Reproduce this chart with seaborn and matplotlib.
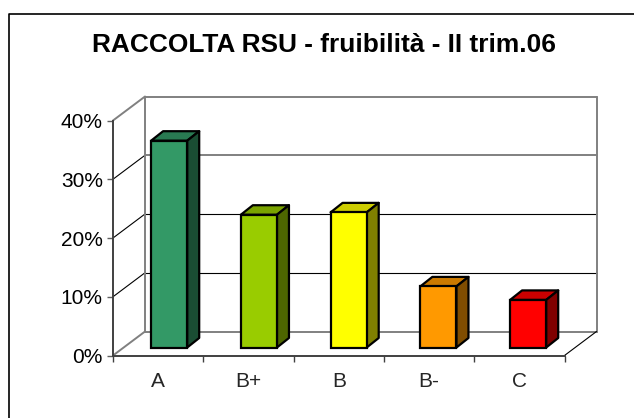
import matplotlib
matplotlib.use('Agg')
import matplotlib.pyplot as plt
from matplotlib.lines import Line2D
from matplotlib.patches import Polygon
import pandas as pd
import seaborn as sns

# Data
categories = ['A', 'B+', 'B', 'B-', 'C']
values = [35.2, 22.6, 23.0, 10.4, 8.1]
front_colors = ['#339966', '#99CC00', '#FFFF00', '#FF9900', '#FF0000']
top_colors = ['#297A52', '#7AA300', '#CCCC00', '#CC7A00', '#CC0000']
side_colors = ['#1A4D33', '#4D6600', '#808000', '#804D00', '#800000']
y_ticks = [0, 10, 20, 30, 40]
title = 'RACCOLTA RSU - fruibilità - II trim.06'

W, H = 634, 418
sns.set_style('white')
plt.rcParams['font.family'] = ['Liberation Sans', 'DejaVu Sans']

df = pd.DataFrame({'cat': categories, 'val': values})

fig = plt.figure(figsize=(W / 100, H / 100), dpi=100)
fig.patch.set_facecolor('white')
# frame only shows on the left and top, runs off the image
fig.add_artist(Line2D([9 / W, 9 / W, 1], [0, 1 - 13.5 / H, 1 - 13.5 / H], color='black', lw=1.2))

# axes is the front plane of the 3D box
x0, x1, y_base, y_top = 113, 564.5, 355.5, 120.5
ax = fig.add_axes([x0 / W, 1 - y_base / H, (x1 - x0) / W, (y_base - y_top) / H])
ax.patch.set_alpha(0)
sns.barplot(data=df, x='cat', y='val', order=categories, hue='cat', palette=front_colors,
            legend=False, width=0.4, edgecolor='black', linewidth=1.6, saturation=1, ax=ax)
ax.set_xlim(-0.5, 4.5)
ax.set_ylim(0, 40)
sns.despine(ax=ax, top=True, right=True)

# px to data units
ux = (x1 - x0) / 5
uy = (y_base - y_top) / 40
wall_dx, wall_dy = 32 / ux, 24 / uy
off_dx, off_dy = 11 / ux, 8 / uy
depth_dx, depth_dy = 12 / ux, 9.5 / uy
bar_spacing = 89.75 / ux  # bars sit a bit tighter than the axis ticks

# back wall and floor lines
for t in y_ticks:
    heavy = t in (0, 30, 40)
    col = '#808080' if heavy else '#000000'
    lw = 1.4 if heavy else 0.8
    ax.plot([-0.5 + wall_dx, 4.5 + wall_dx], [t + wall_dy, t + wall_dy], color=col, lw=lw,
            clip_on=False, zorder=0.5)
    ax.plot([-0.5, -0.5 + wall_dx], [t, t + wall_dy], color='#808080' if t in (0, 40) else '#000000',
            lw=1.4 if t in (0, 40) else 0.8, clip_on=False, zorder=0.5)
ax.plot([-0.5 + wall_dx] * 2, [wall_dy, 40 + wall_dy], color='#808080', lw=1.4, clip_on=False, zorder=0.5)
ax.plot([4.5 + wall_dx] * 2, [wall_dy, 40 + wall_dy], color='#808080', lw=1.4, clip_on=False, zorder=0.5)
ax.plot([4.5, 4.5 + wall_dx], [0, wall_dy], color='black', lw=0.8, clip_on=False, zorder=0.5)

# oblique faces built from the seaborn bars
for i, (bar, top_c, side_c) in enumerate(zip(ax.patches, top_colors, side_colors)):
    bar.set_x(i * bar_spacing - bar.get_width() / 2 + off_dx)
    bar.set_y(off_dy)
    bar.set_clip_on(False)
    bar.set_zorder(3)
    xl, xr = bar.get_x(), bar.get_x() + bar.get_width()
    yb, yt = bar.get_y(), bar.get_y() + bar.get_height()
    ax.add_patch(Polygon([(xl, yt), (xr, yt), (xr + depth_dx, yt + depth_dy), (xl + depth_dx, yt + depth_dy)],
                         facecolor=top_c, edgecolor='black', linewidth=1.6, joinstyle='round', clip_on=False, zorder=2))
    ax.add_patch(Polygon([(xr, yb), (xr + depth_dx, yb + depth_dy), (xr + depth_dx, yt + depth_dy), (xr, yt)],
                         facecolor=side_c, edgecolor='black', linewidth=1.6, joinstyle='round', clip_on=False, zorder=2))

ax.set_xlabel('')
ax.set_ylabel('')
ax.set_yticks(y_ticks)
ax.set_yticklabels([f'{t}%' for t in y_ticks], fontsize=15, color='black')
ax.set_xticks([-0.5, 0.5, 1.5, 2.5, 3.5, 4.5])
ax.set_xticklabels([])
ax.set_xticks(range(5), categories, minor=True, fontsize=15)
ax.tick_params(axis='x', which='major', direction='out', length=4.3, width=1, color='#404040', bottom=True)
ax.tick_params(axis='x', which='minor', length=0, pad=12)
ax.tick_params(axis='y', direction='out', length=4.3, width=1, color='#606060', left=True, pad=3)
for s in ('left', 'bottom'):
    ax.spines[s].set_color('#404040')
    ax.spines[s].set_linewidth(1.4)
    ax.spines[s].set_zorder(4)

fig.text(324.5 / W, 1 - 52 / H, title, ha='center', va='baseline', fontsize=18.9, fontweight='bold', color='black')

fig.savefig('out.png', dpi=100)
